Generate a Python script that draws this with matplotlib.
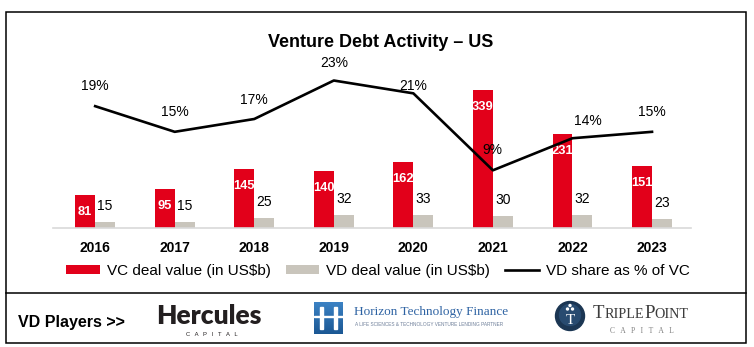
import numpy as np
import matplotlib.pyplot as plt
from matplotlib.patches import Rectangle, Circle

plt.rcParams['font.family'] = ['Liberation Sans', 'DejaVu Sans']

years = ['2016', '2017', '2018', '2019', '2020', '2021', '2022', '2023']
vc_value = [81, 95, 145, 140, 162, 339, 231, 151]
vd_value = [15, 15, 25, 32, 33, 30, 32, 23]
vd_share = [19, 15, 17, 23, 21, 9, 14, 15]

RED = '#E2001A'
GREY = '#C9C5BC'

fig = plt.figure(figsize=(7.54, 3.47), dpi=100)

# background layer in pixel units for the frame, title and logos
bg = fig.add_axes([0, 0, 1, 1])
bg.set_xlim(0, 754)
bg.set_ylim(347, 0)
bg.axis('off')

bg.add_patch(Rectangle((6, 12), 740, 331, fill=False, ec='black', lw=1.1))
bg.plot([6, 746], [293, 293], color='black', lw=1.1)

bg.text(381, 42, 'Venture Debt Activity \u2013 US', ha='center', va='center',
        fontsize=13, weight='bold')

# chart
ax = fig.add_axes([53 / 754, (347 - 228) / 347, 638 / 754, 168 / 347])
ax.set_facecolor('none')
x = np.arange(len(years))
w = 0.25
b1 = ax.bar(x - w / 2, vc_value, w, color=RED, label='VC deal value (in US$b)')
b2 = ax.bar(x + w / 2, vd_value, w, color=GREY, label='VD deal value (in US$b)')
ax.set_xlim(-0.53, 7.49)
ax.set_ylim(0, 412)
ax.set_xticks(x, years, fontsize=10, weight='bold')
ax.tick_params(axis='x', length=0, pad=9)
ax.set_yticks([])
for s in ['top', 'left', 'right']:
    ax.spines[s].set_visible(False)
ax.spines['bottom'].set_color('#D9D9D9')
ax.spines['bottom'].set_linewidth(1.2)

for xi, v in zip(x, vc_value):
    ax.annotate(str(v), (xi - w / 2, v), xytext=(0, -12.2), textcoords='offset points',
                ha='center', va='center', color='white', fontsize=9.3, weight='bold',
                family=['Liberation Sans Narrow', 'Liberation Sans'])
for xi, v in zip(x, vd_value):
    ax.annotate(str(v), (xi + w / 2, v), xytext=(0, 11.3), textcoords='offset points',
                ha='center', va='center', fontsize=10)

ax2 = ax.twinx()
ax2.set_ylim(0, 26.2)
ln, = ax2.plot(x, vd_share, color='black', lw=1.9, label='VD share as % of VC')
ax2.axis('off')

# label nudges in pixels (dx, dy)
nudge = [(0, 20), (0, 20), (0, 19), (0, 18), (0, 7), (-1, 20), (15, 17), (0, 20)]
for xi, v, (dx, dy) in zip(x, vd_share, nudge):
    ax2.annotate(f'{v}%', (xi, v), xytext=(dx * 0.72, dy * 0.72), textcoords='offset points',
                 ha='center', va='center', fontsize=10)

fig.legend([b1, b2, ln], [b1.get_label(), b2.get_label(), ln.get_label()],
           loc='center', bbox_to_anchor=(378 / 754, (347 - 271) / 347), ncol=3,
           frameon=False, fontsize=11, handlelength=2.2, handleheight=0.55,
           handletextpad=0.45, columnspacing=1.0, borderpad=0)

# players strip
bg.text(18, 322, 'VD Players >>', va='center', fontsize=11.5, weight='bold')

bg.text(156, 316, 'Hercules', va='center', ha='left', fontsize=19, weight='heavy',
        family=['Lato', 'Liberation Sans'], color='#231F20')
bg.text(212, 335, 'C   A   P   I   T   A   L', ha='center', va='center', fontsize=4.2,
        color='#231F20')

grad = np.linspace(0, 1, 32)[:, None] * np.ones((1, 29))
bg.imshow(grad, extent=(314, 343, 334, 302), cmap=plt.matplotlib.colors.LinearSegmentedColormap.from_list(
    'hz', ['#3C82C4', '#1B5894']), aspect='auto', zorder=2)
for rx in (320, 334):
    bg.add_patch(Rectangle((rx, 307), 3, 22, color='white', zorder=3))
bg.add_patch(Rectangle((314, 315.5), 29, 1.6, color='white', zorder=3))
bg.set_xlim(0, 754)
bg.set_ylim(347, 0)
bg.text(354, 312, 'Horizon Technology Finance', va='center', fontsize=9.5,
        family=['Liberation Serif', 'DejaVu Serif'], color='#2E63A3')
bg.text(355, 325, 'A LIFE SCIENCES & TECHNOLOGY VENTURE LENDING PARTNER', va='center',
        fontsize=3.4, color='#6E7F99')

bg.add_patch(Circle((570, 316), 14.5, color='#1B3653', zorder=2))
bg.add_patch(Circle((570, 315), 10.5, color='#284B70', zorder=2))
bg.text(570, 320, 'T', ha='center', va='center', fontsize=11, color='white',
        family=['Liberation Serif', 'DejaVu Serif'], zorder=3)
for cx, cy in [(570, 305.5), (567.5, 309), (572.5, 309)]:
    bg.add_patch(Circle((cx, cy), 1.0, color='white', zorder=3))

serif = ['Liberation Serif', 'DejaVu Serif']
prev = bg.text(593, 318, 'T', va='baseline', fontsize=13.5, family=serif, color='#3C3C3C')
for part, size in [('RIPLE', 10.2), ('P', 13.5), ('OINT', 10.2)]:
    prev = bg.annotate(part, xy=(1, 318), xycoords=(prev, 'data'), va='baseline',
                       fontsize=size, family=serif, color='#3C3C3C')
bg.text(642, 331, 'C   A   P   I   T   A   L', ha='center', va='center', fontsize=5.5,
        family=serif, color='#808080')

fig.savefig('out.png', dpi=100)
